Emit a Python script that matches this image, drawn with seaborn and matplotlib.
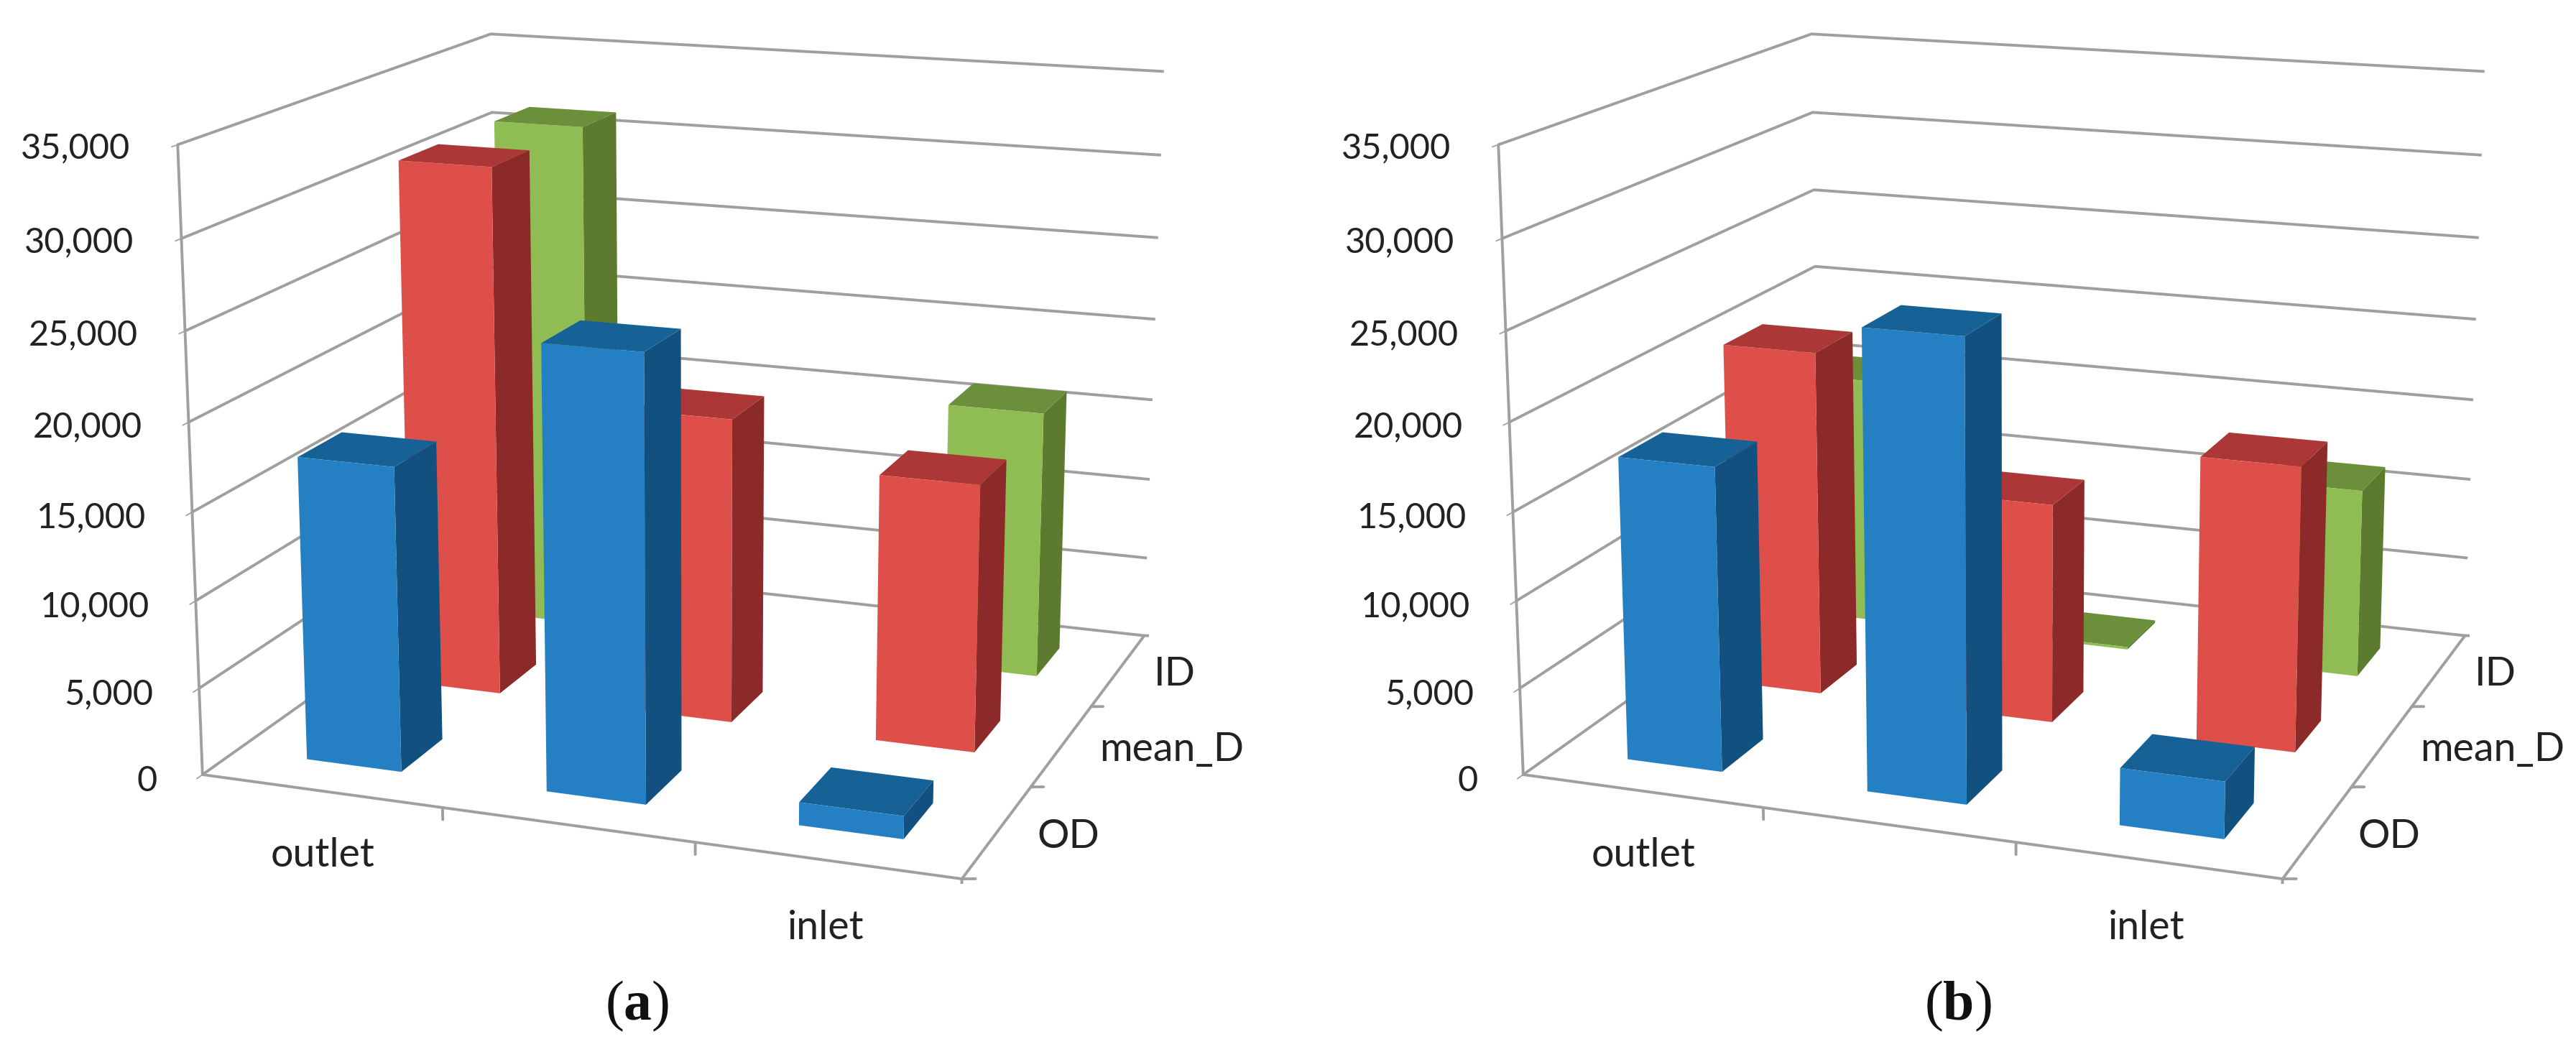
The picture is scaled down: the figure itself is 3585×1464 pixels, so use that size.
import numpy as np
import matplotlib
matplotlib.use("Agg")
import matplotlib.pyplot as plt
import seaborn as sns

# ---- data ----
positions = ["outlet", "", "inlet"]
diameters = ["OD", "mean_D", "ID"]
z_ticks = [0, 5000, 10000, 15000, 20000, 25000, 30000, 35000]

panel_a_od = [17400, 24960, 1290]
panel_a_mean = [31290, 17910, 15520]
panel_a_id = [31270, np.nan, 16140]

panel_b_od = [17400, 25800, 3200]
panel_b_mean = [20520, 12930, 16560]
panel_b_id = [15370, 150, 11450]

# ---- style ----
sns.set_theme(style="white")
plt.rcParams["font.family"] = ["Lato", "DejaVu Sans"]
plt.rcParams["mathtext.fontset"] = "custom"
plt.rcParams["mathtext.rm"] = "Liberation Serif"
plt.rcParams["mathtext.bf"] = "Liberation Serif:bold"

W, H = 3585, 1464
GRID = "#9f9f9f"
TXT = "#222222"
FS = 40
FS_Z = 35
LW = 2.8
NONE = (0, 0, 0, 0)
# front, top, right face
FACES = {
    "OD": ("#2580c3", "#166296", "#12517f"),
    "mean_D": ("#de4f49", "#ab3836", "#8c2a2a"),
    "ID": ("#8fbc53", "#6c8f3c", "#5d7b2f"),
}
S = 1283
ZOOM = 1.2797


def panel(cx, cy, od, mean, idd, letter, label_x):
    left = cx - 0.5135 * S
    bottom = (H - cy) - 0.5135 * S
    ax = fig.add_axes([left / W, bottom / H, S / W, S / H], projection="3d")
    ax.computed_zorder = False
    ax.patch.set_alpha(0)
    ax.set_proj_type("persp", focal_length=0.6895)
    ax.view_init(elev=14.8, azim=-70.0)
    ax.set_box_aspect((0.535, 0.51, 0.434), zoom=ZOOM)
    ax.set_xlim(0, 3, view_margin=0)
    ax.set_ylim(0, 3, view_margin=0)
    ax.set_zlim(0, 35000, view_margin=0)

    for axis in (ax.xaxis, ax.yaxis, ax.zaxis):
        axis.set_pane_color((1, 1, 1, 0))
        axis.pane.set_edgecolor((1, 1, 1, 0))
        axis.line.set_color(GRID)
        axis.line.set_linewidth(LW)
    ax.grid(True)
    ax.xaxis._axinfo["grid"].update(linewidth=0, color=NONE)
    ax.yaxis._axinfo["grid"].update(linewidth=0, color=NONE)
    ax.zaxis._axinfo["grid"].update(linewidth=LW, color=GRID)

    ax.zaxis.set_ticks_position("lower")
    ax.set_xticks([])
    ax.set_yticks([])
    ax.set_zticks(z_ticks, [f"{v:,}" for v in z_ticks], fontsize=FS_Z, color=TXT, ha="right", va="center")
    ax.tick_params(axis="z", color=GRID, width=LW, pad=12.5)

    # category boundary ticks
    for v in range(4):
        ax.plot([v, v], [0, 0], [0, -680], color=GRID, lw=LW, zorder=1)
        ax.plot([3, 3.045], [v, v + 0.018], [0, 0], color=GRID, lw=LW, zorder=1)

    # category labels
    for i, name in enumerate(positions):
        if name:
            ax.text(i + 0.5, 0, -3750, name, fontsize=FS, color=TXT, ha="center", va="center")
    for j, name in enumerate(diameters):
        ax.text(3.15, j + 0.5, 0, name, fontsize=FS, color=TXT, ha="left", va="center")

    # bars, drawn from the back row forward
    rows = [("ID", 2, idd), ("mean_D", 1, mean), ("OD", 0, od)]
    order = 2
    for name, j, vals in rows:
        front, top, side = FACES[name]
        for i, v in enumerate(vals):
            if np.isnan(v):
                continue
            ax.bar3d(i + 0.3, j + 0.3, 0, 0.4, 0.4, v,
                     color=[NONE, top, front, NONE, NONE, side],
                     shade=False, edgecolor=NONE, zorder=order)
            order += 1

    fig.text(label_x / W, 1 - 1400 / H, "(" + r"$\mathbf{" + letter + "}$" + ")",
             fontsize=56, family="Liberation Serif", color="#111111", ha="center", va="center")
    return ax


fig = plt.figure(figsize=(W / 100, H / 100), dpi=100, facecolor="white")
panel(975, 571, panel_a_od, panel_a_mean, panel_a_id, "a", 887)
panel(975 + 1838, 571, panel_b_od, panel_b_mean, panel_b_id, "b", 2725)
fig.savefig("out.png", dpi=100, facecolor="white")
